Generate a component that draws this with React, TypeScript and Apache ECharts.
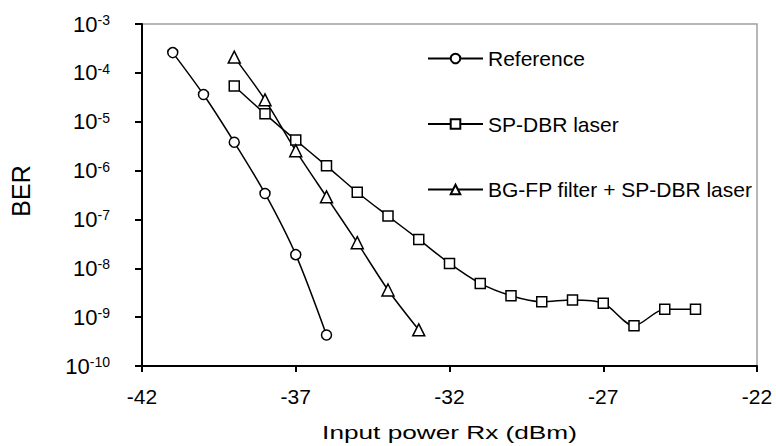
import React, { useEffect, useRef } from "react";
import * as echarts from "echarts";

const xRef = [-41, -40, -39, -38, -37, -36];
const berRef = [2.6e-4, 3.6e-5, 3.8e-6, 3.4e-7, 1.9e-8, 4.3e-10];

const xSp = [-39, -38, -37, -36, -35, -34, -33, -32, -31, -30, -29, -28, -27, -26, -25, -24];
const berSp = [5.4e-5, 1.45e-5, 4.2e-6, 1.25e-6, 3.6e-7, 1.17e-7, 3.9e-8, 1.26e-8, 4.9e-9, 2.75e-9, 2.07e-9, 2.25e-9, 1.92e-9, 6.7e-10, 1.45e-9, 1.45e-9];

const xBg = [-39, -38, -37, -36, -35, -34, -33];
const berBg = [2.1e-4, 2.8e-5, 2.55e-6, 2.9e-7, 3.35e-8, 3.6e-9, 5.5e-10];

const seriesNames = ["Reference", "SP-DBR laser", "BG-FP filter + SP-DBR laser"];
const xTitle = "Input power Rx (dBm)";
const yTitle = "BER";

const FONT = "'Liberation Sans', Arial, sans-serif";

function zip(xs: number[], ys: number[]) {
  return xs.map((x, i) => [x, ys[i]]);
}

export default function App() {
  const ref = useRef<HTMLDivElement>(null);
  useEffect(() => {
    if (!ref.current) return;
    document.body.style.margin = "0";
    const chart = echarts.init(ref.current, null, { renderer: "svg" });
    const mk = (name: string, data: number[][], symbol: string, size: number) => ({
      name,
      type: "line",
      data,
      symbol,
      symbolSize: size,
      smooth: 0.3,
      showAllSymbol: true,
      lineStyle: { color: "#000", width: 1.5 },
      itemStyle: { color: "#fff", borderColor: "#000", borderWidth: 1.5 },
      emphasis: { disabled: true },
    });
    chart.setOption({
      animation: false,
      backgroundColor: "#fff",
      grid: {
        left: 142,
        top: 24,
        right: 19,
        bottom: 80,
        show: true,
        borderColor: "#a0a0a0",
        borderWidth: 1.5,
        backgroundColor: "transparent",
      },
      legend: {
        orient: "vertical",
        left: 422,
        top: 43,
        itemWidth: 55,
        itemHeight: 12,
        itemGap: 44.5,
        data: seriesNames,
        textStyle: { fontFamily: FONT, fontSize: 21, color: "#000" },
      },
      xAxis: {
        type: "value",
        min: -42,
        max: -22,
        interval: 5,
        axisLine: { show: true, onZero: false, lineStyle: { color: "#000", width: 2 } },
        axisTick: { show: true, inside: false, length: 6, lineStyle: { color: "#000", width: 2 } },
        splitLine: { show: false },
        axisLabel: { fontFamily: FONT, fontSize: 21, color: "#000", margin: 20 },
      },
      yAxis: {
        type: "log",
        logBase: 10,
        min: 1e-10,
        max: 1e-3,
        axisLine: { show: true, onZero: false, lineStyle: { color: "#000", width: 2 } },
        axisTick: { show: true, inside: false, length: 7, lineStyle: { color: "#000", width: 2 } },
        splitLine: { show: false },
        axisLabel: {
          margin: 32,
          formatter: (v: number) => `{b|10}{s|${Math.round(Math.log10(v))}}`,
          rich: {
            b: { fontFamily: FONT, fontSize: 22, color: "#000" },
            s: { fontFamily: FONT, fontSize: 14, color: "#000", verticalAlign: "top" },
          },
        },
      },
      graphic: [
        {
          type: "text",
          x: 449.5,
          y: 432.5,
          scaleX: 1.38,
          style: {
            text: xTitle,
            fontFamily: FONT,
            fontSize: 19,
            fill: "#000",
            align: "center",
            verticalAlign: "middle",
            textAlign: "center",
            textVerticalAlign: "middle",
          },
        },
        {
          type: "text",
          x: 21,
          y: 191,
          rotation: Math.PI / 2,
          style: {
            text: yTitle,
            fontFamily: FONT,
            fontSize: 25,
            fill: "#000",
            align: "center",
            verticalAlign: "middle",
            textAlign: "center",
            textVerticalAlign: "middle",
          },
        },
      ],
      series: [
        mk(seriesNames[0], zip(xRef, berRef), "circle", 10),
        mk(seriesNames[1], zip(xSp, berSp), "rect", 10),
        mk(seriesNames[2], zip(xBg, berBg), "triangle", 12),
      ],
    });
    return () => chart.dispose();
  }, []);
  return <div ref={ref} style={{ width: 776, height: 446, position: "absolute", left: 0, top: 0 }} />;
}
